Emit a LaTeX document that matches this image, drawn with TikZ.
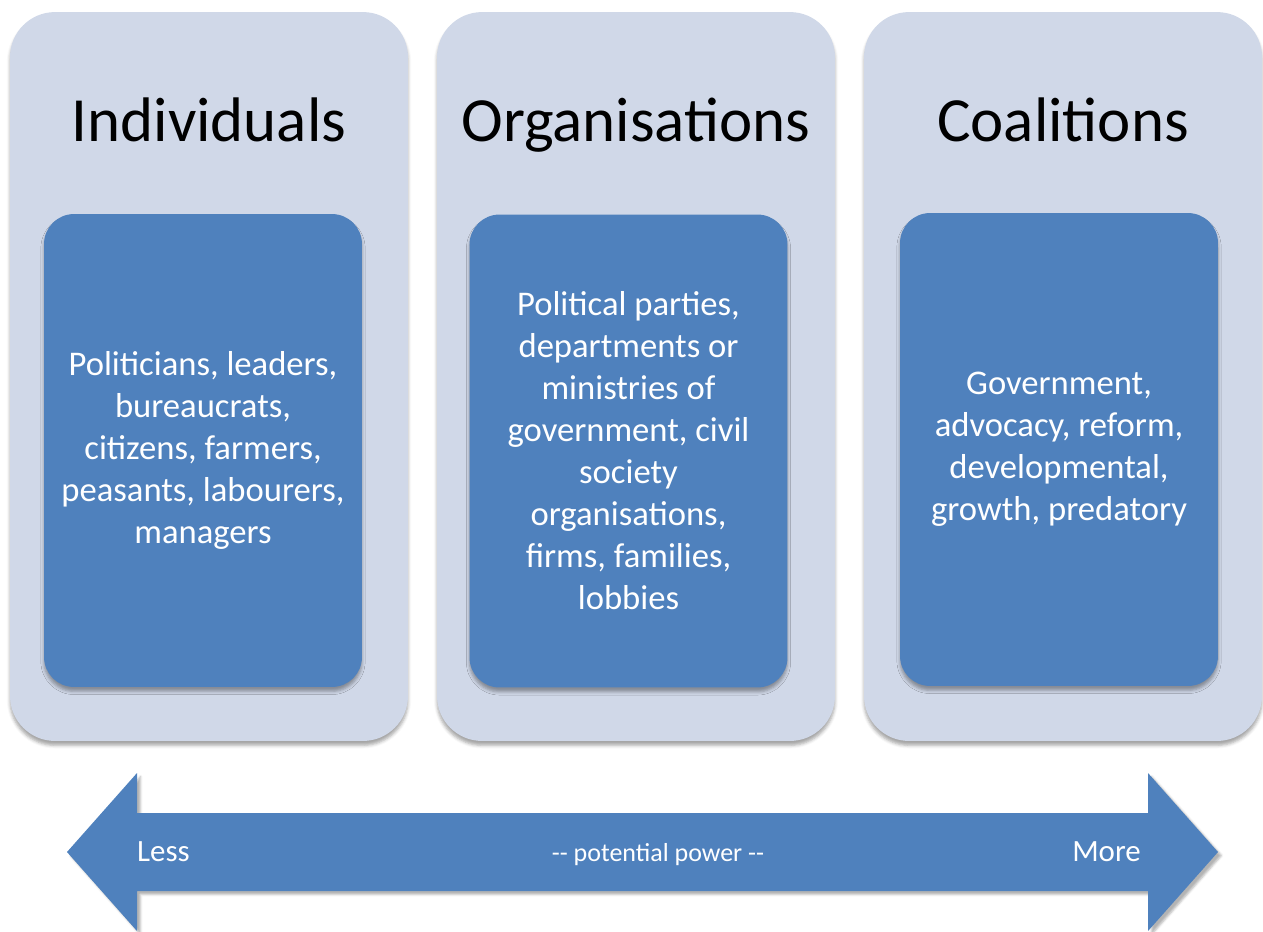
\documentclass[tikz,border=0pt]{standalone}
\usepackage{fontspec}
\setmainfont{Carlito}
\usepackage{tikz}
\usetikzlibrary{positioning, shadows.blur}
\definecolor{panelGrey}{HTML}{D0D8E8}
\definecolor{actorBlue}{HTML}{4F81BD}

\begin{document}
\begin{tikzpicture}[
  x=0.02cm, y=-0.02cm,
  every node/.style={font=\rmfamily},
  panel/.style={
    rectangle, rounded corners=0.9cm,
    minimum width=7.96cm, minimum height=14.58cm,
    fill=panelGrey, draw=none,
    blur shadow={shadow xshift=0pt, shadow yshift=-2.5pt,
      shadow blur radius=1.8pt, shadow opacity=35}
  },
  group/.style={
    rectangle, rounded corners=0.6cm,
    minimum width=6.36cm, minimum height=9.46cm,
    fill=actorBlue, draw=none, text=white, align=center,
    font=\fontsize{19.7}{23.9}\selectfont,
    blur shadow={shadow xshift=0pt, shadow yshift=-2.5pt,
      shadow blur radius=1.8pt, shadow opacity=35}
  },
  heading/.style={
    anchor=base, text=black,
    font=\fontsize{35.8}{40}\selectfont
  },
  arrowlabel/.style={text=white, font=\fontsize{17.6}{20}\selectfont},
]
\useasboundingbox (0,0) rectangle (1263,931);

% Outer panels
\node[panel] (ind) at (209,376.5) {};
\node[panel] (org) at (636,376.5) {};
\node[panel] (coal) at (1063,376.5) {};

% Headings
\node[heading] (indTitle) at (209,141) {Individuals};
\node[heading] (orgTitle) at (636,141) {Organisations};
\node[heading] (coalTitle) at (1063,141) {Coalitions};

% Inner boxes
\node[group] (indBox) at (203,450.5) {Politicians, leaders,\\ bureaucrats,\\ citizens, farmers,\\ peasants, labourers,\\ managers};
\node[group] (orgBox) at (628.5,451) {Political parties,\\ departments or\\ ministries of\\ government, civil\\ society\\ organisations,\\ firms, families,\\ lobbies};
\node[group] (coalBox) at (1059,449.5) {Government,\\ advocacy, reform,\\ developmental,\\ growth, predatory};

% Power arrow
\fill[actorBlue, blur shadow={shadow xshift=2pt, shadow yshift=-2pt,
    shadow blur radius=1.2pt, shadow opacity=30}]
  (67,852) -- (137,773) -- (137,813) -- (1148,813) -- (1148,773)
  -- (1218,852) -- (1148,931) -- (1148,891) -- (137,891) -- (137,931) -- cycle;

\node[arrowlabel, anchor=west] (less) at (131,852) {Less};
\node[arrowlabel, anchor=east] (more) at (1147,852) {More};
\node[arrowlabel, font=\fontsize{14.8}{17}\selectfont] (power) at (658,855) {-{}- potential power -{}-};

\end{tikzpicture}
\end{document}
